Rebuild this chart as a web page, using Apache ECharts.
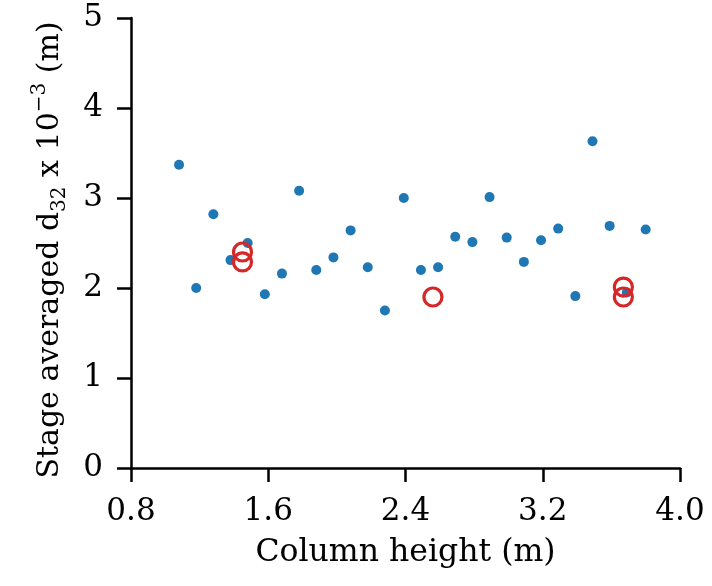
<!DOCTYPE html>
<html>
<head>
<meta charset="utf-8">
<script src="https://cdn.jsdelivr.net/npm/echarts@6/dist/echarts.min.js"></script>
<style>
html, body { margin: 0; padding: 0; background: #fff; }
#chart { width: 712px; height: 586px; }
</style>
</head>
<body>
<div id="chart"></div>
<script>
// measured stage data (blue dots)
var heightMeasured = [1.08, 1.18, 1.28, 1.38, 1.48, 1.58, 1.68, 1.78, 1.88, 1.98, 2.08, 2.18, 2.28, 2.39, 2.49, 2.59, 2.69, 2.79, 2.89, 2.99, 3.09, 3.19, 3.29, 3.39, 3.49, 3.59, 3.69, 3.80]
var d32Measured = [3.37, 2.00, 2.82, 2.31, 2.50, 1.93, 2.16, 3.08, 2.20, 2.34, 2.64, 2.23, 1.75, 3.00, 2.20, 2.23, 2.57, 2.51, 3.01, 2.56, 2.29, 2.53, 2.66, 1.91, 3.63, 2.69, 1.95, 2.65]
// averaged values (red open circles)
var heightAvg = [1.45, 1.45, 2.56, 3.67, 3.67]
var d32Avg = [2.40, 2.29, 1.90, 2.01, 1.90]

var xTicks = [0.8, 1.6, 2.4, 3.2, 4.0]
var yTicks = [0, 1, 2, 3, 4, 5]

var FONT = 'DejaVu Serif'

function pairs (xs, ys) {
  return xs.map(function (x, i) { return [x, ys[i]] })
}

var chart = echarts.init(document.getElementById('chart'))

var axisCommon = {
  axisLine: { show: true, lineStyle: { color: '#000', width: 2.5 } },
  axisTick: { show: true, inside: false, length: 14, lineStyle: { color: '#000', width: 2.5 } },
  splitLine: { show: false },
  nameTextStyle: { fontFamily: FONT, fontSize: 31, color: '#000' }
}

var option = {
  animation: false,
  backgroundColor: '#fff',
  grid: { left: 131, right: 32, top: 18, bottom: 118 },
  xAxis: Object.assign({}, axisCommon, {
    type: 'value',
    min: xTicks[0],
    max: xTicks[xTicks.length - 1],
    interval: 0.8,
    name: 'Column height (m)',
    nameLocation: 'middle',
    nameGap: 69,
    nameTextStyle: { fontFamily: FONT, fontSize: 31.5, color: '#000' },
    axisLabel: {
      margin: 28,
      fontFamily: FONT,
      fontSize: 31,
      color: '#000',
      formatter: function (v) { return v.toFixed(1) }
    }
  }),
  yAxis: Object.assign({}, axisCommon, {
    type: 'value',
    min: yTicks[0],
    max: yTicks[yTicks.length - 1],
    interval: 1,
    name: '{n|Stage averaged d}{sub|32}{n| x 10}{sup|\u22123}{n| (m)}',
    nameLocation: 'middle',
    nameRotate: 90,
    nameGap: 61,
    nameTextStyle: {
      fontFamily: FONT,
      fontSize: 30,
      color: '#000',
      padding: [0, 14, 0, 0],
      rich: {
        n: { fontFamily: FONT, fontSize: 30, color: '#000', lineHeight: 40, verticalAlign: 'middle' },
        sub: { fontFamily: FONT, fontSize: 20, color: '#000', lineHeight: 20, verticalAlign: 'bottom' },
        sup: { fontFamily: FONT, fontSize: 20, color: '#000', lineHeight: 20, verticalAlign: 'top' }
      }
    },
    axisLabel: {
      margin: 28,
      fontFamily: FONT,
      fontSize: 31,
      color: '#000'
    }
  }),
  series: [
    {
      type: 'scatter',
      data: pairs(heightMeasured, d32Measured),
      symbol: 'circle',
      symbolSize: 10,
      itemStyle: { color: '#1f77b4', opacity: 1 },
      z: 2
    },
    {
      type: 'scatter',
      data: pairs(heightAvg, d32Avg),
      symbol: 'circle',
      symbolSize: 18,
      itemStyle: { color: 'none', borderColor: '#d62728', borderWidth: 3.2, opacity: 1 },
      z: 3
    }
  ]
}

chart.setOption(option)
</script>
</body>
</html>
